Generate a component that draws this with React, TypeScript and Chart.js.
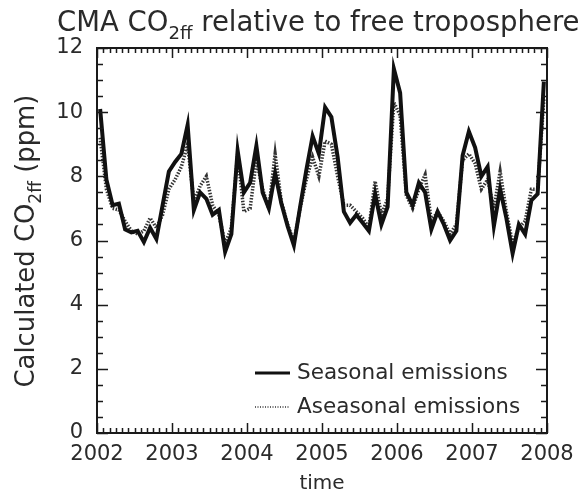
import { useEffect, useRef } from "react";
import { Chart, registerables } from "chart.js";
Chart.register(...registerables);

const startYear = 2002;
const endYear = 2008;
const yMin = 0;
const yMax = 12;
const yStep = 2;
const titleParts = ["CMA CO", "2ff", " relative to free troposphere"];
const yTitleParts = ["Calculated CO", "2ff", " (ppm)"];
const xTitle = "time";
const legendLabels = ["Seasonal emissions", "Aseasonal emissions"];

// monthly values, Jan 2002 .. Dec 2007
const seasonal = [
  10.1, 7.9, 7.1, 7.15, 6.35, 6.25, 6.3, 5.95, 6.4, 6.05, 7.1, 8.15,
  8.45, 8.7, 9.6, 6.95, 7.5, 7.3, 6.8, 6.95, 5.65, 6.2, 8.8, 7.5,
  7.8, 8.95, 7.5, 7.0, 8.1, 7.15, 6.45, 5.85, 7.05, 8.2, 9.25, 8.7,
  10.15, 9.85, 8.6, 6.9, 6.55, 6.8, 6.55, 6.3, 7.45, 6.5, 7.05, 11.35,
  10.6, 7.5, 7.1, 7.8, 7.5, 6.35, 6.9, 6.5, 6.0, 6.3, 8.65, 9.4,
  8.9, 8.0, 8.3, 6.45, 7.6, 6.7, 5.6, 6.5, 6.2, 7.25, 7.45, 10.95,
];
const aseasonal = [
  9.2, 7.6, 7.0, 6.95, 6.6, 6.3, 6.2, 6.3, 6.7, 6.4, 6.8, 7.6,
  7.9, 8.3, 9.0, 7.2, 7.7, 8.0, 7.1, 6.8, 5.9, 6.4, 8.7, 6.9,
  7.0, 8.5, 7.6, 7.0, 8.7, 7.2, 6.5, 5.95, 7.0, 7.9, 8.6, 8.0,
  9.1, 9.0, 8.0, 7.1, 7.1, 6.9, 6.7, 6.4, 7.85, 6.8, 7.3, 10.3,
  9.9, 7.4, 7.0, 7.6, 8.05, 6.6, 6.9, 6.6, 6.2, 6.5, 8.5, 8.7,
  8.4, 7.6, 7.9, 7.0, 8.15, 6.9, 5.9, 6.4, 6.6, 7.6, 7.6, 10.4,
];

const times = seasonal.map((_, i) => startYear + (i + 0.5) / 12);
const FONT = "'DejaVu Sans', sans-serif";
const INK = "#1a1a1a";
const TEXT = "#2a2a2a";

function richWidth(ctx: CanvasRenderingContext2D, parts: string[], size: number) {
  let w = 0;
  parts.forEach((p, i) => {
    ctx.font = `${i === 1 ? size * 0.66 : size}px ${FONT}`;
    w += ctx.measureText(p).width;
  });
  return w;
}
function drawRich(ctx: CanvasRenderingContext2D, parts: string[], x: number, y: number, size: number) {
  let cx = x;
  ctx.textBaseline = "alphabetic";
  ctx.textAlign = "left";
  parts.forEach((p, i) => {
    const s = i === 1 ? size * 0.66 : size;
    ctx.font = `${s}px ${FONT}`;
    ctx.fillText(p, cx, i === 1 ? y + size * 0.28 : y);
    cx += ctx.measureText(p).width;
  });
}

const decor = {
  id: "decor",
  afterDatasetsDraw(chart: any) {
    const { ctx, chartArea: a, scales } = chart;
    const xs = scales.x, ys = scales.y;
    ctx.save();
    ctx.strokeStyle = INK;
    ctx.lineWidth = 2;
    ctx.strokeRect(a.left, a.top, a.right - a.left, a.bottom - a.top);
    ctx.lineWidth = 1.5;
    ctx.beginPath();
    const months = (endYear - startYear) * 12;
    for (let m = 0; m <= months; m++) {
      const x = Math.round(xs.getPixelForValue(startYear + m / 12)) + 0.5;
      const len = m % 12 === 0 ? 10 : 5;
      ctx.moveTo(x, a.bottom); ctx.lineTo(x, a.bottom - len);
      ctx.moveTo(x, a.top); ctx.lineTo(x, a.top + len);
    }
    for (let v = yMin; v <= yMax; v += 0.5) {
      const y = Math.round(ys.getPixelForValue(v)) + 0.5;
      const len = v % yStep === 0 ? 11 : 6;
      ctx.moveTo(a.left, y); ctx.lineTo(a.left + len, y);
      ctx.moveTo(a.right, y); ctx.lineTo(a.right - len, y);
    }
    ctx.stroke();

    ctx.fillStyle = TEXT;
    // title
    const tW = 523;
    const tSize = 100 * tW / richWidth(ctx, titleParts, 100);
    drawRich(ctx, titleParts, 57, 31, tSize);
    // y title
    const yLen = 293;
    const ySize = 100 * yLen / richWidth(ctx, yTitleParts, 100);
    ctx.save();
    ctx.translate(34, 241);
    ctx.rotate(-Math.PI / 2);
    drawRich(ctx, yTitleParts, -yLen / 2, 0, ySize);
    ctx.restore();
    // x title
    ctx.font = `20px ${FONT}`;
    ctx.textAlign = "center";
    ctx.textBaseline = "middle";
    ctx.fillText(xTitle, (a.left + a.right) / 2, 484);
    // legend
    ctx.font = `100px ${FONT}`;
    const lSize = 100 * 211 / ctx.measureText(legendLabels[0]).width;
    ctx.font = `${lSize}px ${FONT}`;
    ctx.textAlign = "left";
    ctx.textBaseline = "middle";
    const rows = [373, 407];
    chart.data.datasets.forEach((ds: any, i: number) => {
      ctx.save();
      ctx.strokeStyle = ds.borderColor;
      ctx.lineWidth = i === 0 ? 3 : 1.5;
      ctx.setLineDash(i === 0 ? [] : [1, 1.5]);
      ctx.beginPath();
      ctx.moveTo(255, rows[i]); ctx.lineTo(290, rows[i]);
      ctx.stroke();
      ctx.restore();
      ctx.fillText(legendLabels[i], 297, rows[i]);
    });
    ctx.restore();
  },
};

export default function App() {
  const ref = useRef<HTMLCanvasElement>(null);
  useEffect(() => {
    if (!ref.current) return;
    const chart = new Chart(ref.current, {
      type: "line",
      data: {
        datasets: [
          {
            label: legendLabels[0],
            data: seasonal.map((v, i) => ({ x: times[i], y: v })),
            borderColor: "#111",
            borderWidth: 4,
            pointRadius: 0,
            tension: 0,
            borderJoinStyle: "miter",
          },
          {
            label: legendLabels[1],
            data: aseasonal.map((v, i) => ({ x: times[i], y: v })),
            borderColor: "#333",
            borderWidth: 3.5,
            borderDash: [1.5, 1.5],
            pointRadius: 0,
            tension: 0,
          },
        ],
      },
      options: {
        responsive: false,
        animation: false,
        layout: { padding: { left: 0, top: 48, right: 40, bottom: 0 } },
        plugins: { legend: { display: false }, tooltip: { enabled: false }, title: { display: false } },
        scales: {
          x: {
            type: "linear",
            min: startYear,
            max: endYear,
            grid: { display: false, drawTicks: false },
            border: { display: false },
            ticks: {
              stepSize: 1,
              padding: 9,
              color: TEXT,
              font: { family: FONT, size: 21 },
              maxRotation: 0,
              callback: (v: any) => String(v),
            },
            afterFit: (s: any) => { s.height = 62; },
          },
          y: {
            min: yMin,
            max: yMax,
            grid: { display: false, drawTicks: false },
            border: { display: false },
            ticks: {
              stepSize: yStep,
              padding: 14,
              color: TEXT,
              font: { family: FONT, size: 21 },
            },
            afterFit: (s: any) => { s.width = 97; },
          },
        },
      },
      plugins: [decor],
    } as any);
    return () => chart.destroy();
  }, []);
  return (
    <div style={{ position: "fixed", left: 0, top: 0, width: 587, height: 495, background: "#fff" }}>
      <canvas ref={ref} width={587} height={495} />
    </div>
  );
}
